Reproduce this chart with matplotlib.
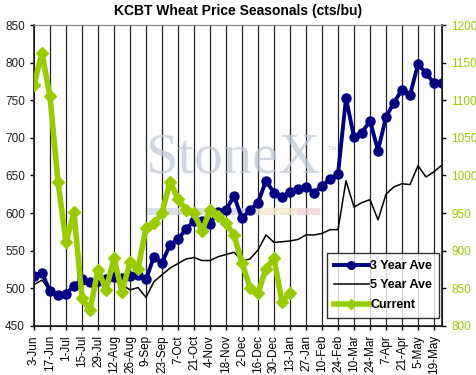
import matplotlib
matplotlib.use('Agg')
import matplotlib.pyplot as plt

plt.rcParams['font.family'] = ['Liberation Sans', 'DejaVu Sans']

# weekly dates, 3-Jun .. 26-May
weeks = ['3-Jun', '10-Jun', '17-Jun', '24-Jun', '1-Jul', '8-Jul', '15-Jul', '22-Jul',
         '29-Jul', '5-Aug', '12-Aug', '19-Aug', '26-Aug', '2-Sep', '9-Sep', '16-Sep',
         '23-Sep', '30-Sep', '7-Oct', '14-Oct', '21-Oct', '28-Oct', '4-Nov', '11-Nov',
         '18-Nov', '25-Nov', '2-Dec', '9-Dec', '16-Dec', '23-Dec', '30-Dec', '6-Jan',
         '13-Jan', '20-Jan', '27-Jan', '3-Feb', '10-Feb', '17-Feb', '24-Feb', '3-Mar',
         '10-Mar', '17-Mar', '24-Mar', '31-Mar', '7-Apr', '14-Apr', '21-Apr', '28-Apr',
         '5-May', '12-May', '19-May', '26-May']

ave3 = [517, 521, 496, 491, 493, 503, 512, 508, 510, 513, 515, 514, 517, 518, 512, 542,
        534, 558, 565, 579, 589, 590, 586, 602, 604, 623, 593, 604, 614, 643, 627, 622,
        628, 632, 635, 627, 636, 645, 652, 753, 701, 707, 723, 683, 728, 747, 764, 757,
        798, 786, 773, 773]

ave5 = [505, 511, 497, 489, 493, 502, 505, 506, 508, 510, 511, 505, 498, 501, 488, 509,
        518, 527, 533, 539, 541, 537, 537, 542, 545, 548, 537, 539, 551, 571, 561, 562,
        563, 565, 571, 571, 573, 578, 578, 643, 608, 614, 618, 591, 625, 635, 639, 638,
        663, 648, 655, 664]

# current season, right axis
current = [1120, 1163, 1105, 992, 911, 951, 837, 821, 875, 848, 890, 845, 885, 876, 930,
           937, 950, 992, 969, 954, 950, 926, 954, 946, 937, 921, 884, 851, 844, 876, 890,
           832, 844]

navy = '#000080'
green = '#99CC00'

fig = plt.figure(figsize=(4.76, 3.75), dpi=100)
ax = fig.add_axes([0.0714, 0.1307, 0.8572, 0.8026])
ax2 = ax.twinx()

x = list(range(len(weeks)))
ax.plot(x, ave3, color=navy, lw=2.8, marker='o', ms=6.5, label='3 Year Ave', zorder=3)
ax.plot(x, ave5, color='black', lw=1.1, label='5 Year Ave', zorder=2)
ax2.plot(range(len(current)), current, color=green, lw=4, marker='D', ms=6,
         label='Current', zorder=3)

ax.set_xlim(0, len(weeks) - 1)
ax.set_ylim(450, 850)
ax2.set_ylim(800, 1200)
ax.set_yticks(range(450, 851, 50))
ax2.set_yticks(range(800, 1201, 50))

ticks = x[::2]
ax.set_xticks(ticks)
ax.set_xticklabels(weeks[::2], rotation=90)
for t in ticks[1:]:
    ax.axvline(t, color='#222222', lw=0.9, zorder=0)

ax.tick_params(axis='both', labelsize=8.5, length=3, width=1, colors='black')
ax.tick_params(axis='y', labelcolor='#222222')
ax2.tick_params(axis='y', labelsize=8.5, length=3, width=1, labelcolor=green)
for side in ['left', 'bottom', 'right']:
    ax2.spines[side].set_linewidth(1.2)
    ax2.spines[side].set_color('#222222')
ax2.spines['top'].set_color('#888888')
ax.spines['top'].set_color('#888888')

ax2.set_zorder(ax.get_zorder() + 1)
ax.patch.set_visible(False)

# watermark
ax.text(0.488, 0.555, 'StoneX', transform=ax.transAxes, ha='center', va='center',
        fontsize=42, family='Liberation Serif', color='#C2CAD8', alpha=0.75, zorder=0)
ax.text(0.715, 0.575, '\u2122', transform=ax.transAxes, fontsize=7,
        color='#C8CCD6', zorder=0)
ax.axhspan(598, 607, xmin=0.277, xmax=0.547, color='#D0D8E2', alpha=0.8, lw=0, zorder=0)
ax.axhspan(598, 607, xmin=0.547, xmax=0.645, color='#F6E6CC', alpha=0.8, lw=0, zorder=0)
ax.axhspan(598, 607, xmin=0.645, xmax=0.701, color='#F0D2D2', alpha=0.8, lw=0, zorder=0)

fig.text(0.5, 0.972, 'KCBT Wheat Price Seasonals (cts/bu)', fontsize=10,
         fontweight='bold', ha='center', va='center')

h1, l1 = ax.get_legend_handles_labels()
h2, l2 = ax2.get_legend_handles_labels()
leg = ax2.legend(h1 + h2, l1 + l2, loc='lower right', bbox_to_anchor=(0.993, 0.027),
                 borderaxespad=0, fontsize=9, frameon=True, fancybox=False,
                 edgecolor='black', handlelength=2.8, handletextpad=0.15,
                 borderpad=0.55, labelspacing=0.6, markerscale=0.85)
leg.get_frame().set_linewidth(1.0)
for t in leg.get_texts():
    t.set_fontweight('bold')

plt.savefig('out.png', dpi=100)
